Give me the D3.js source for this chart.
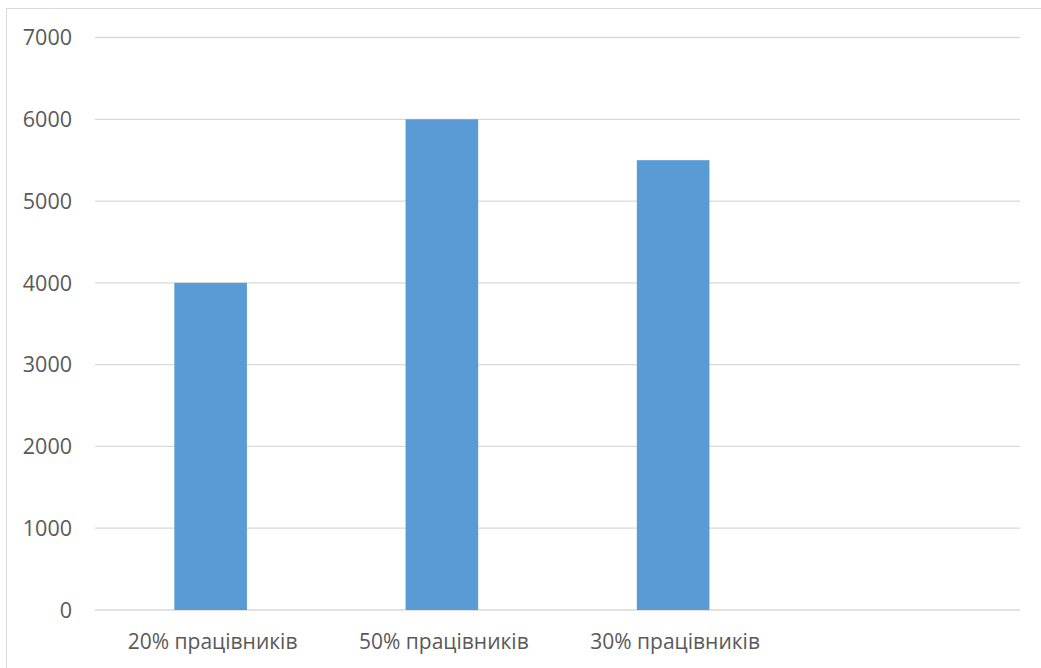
<!DOCTYPE html>
<html><head><meta charset="utf-8">
<script src="https://cdn.jsdelivr.net/npm/d3@7"></script>
<style>body{margin:0;background:#fff;}svg{display:block;}</style>
</head><body>
<svg id="c" width="1041" height="668"></svg>
<script>
const categories = ["20% працівників", "50% працівників", "30% працівників", ""];
const values = [4000, 6000, 5500, null];
const yTicks = [0, 1000, 2000, 3000, 4000, 5000, 6000, 7000];

const svg = d3.select("#c");
const W = 1041, H = 668;
const m = {left: 95, right: 21, top: 37.5, bottom: 58};
const font = "'Open Sans', sans-serif";
const textColor = "#595959";

// chart border
svg.append("rect").attr("x", 6.5).attr("y", 8.5).attr("width", W).attr("height", H)
  .attr("fill", "#fff").attr("stroke", "#d9d9d9").attr("stroke-width", 1);

const x = d3.scaleBand().domain(categories.map((d, i) => i)).range([m.left, W - m.right]).paddingInner(0.686).paddingOuter(0.343);
const y = d3.scaleLinear().domain([0, 7000]).range([H - m.bottom, m.top]);

// gridlines
svg.append("g").selectAll("line").data(yTicks).join("line")
  .attr("x1", m.left).attr("x2", W - m.right)
  .attr("y1", d => y(d)).attr("y2", d => y(d))
  .attr("stroke", "#d9d9d9").attr("stroke-width", 1.3);

// y labels
svg.append("g").selectAll("text").data(yTicks).join("text")
  .attr("x", 72).attr("y", d => y(d)).attr("dy", "0.36em")
  .attr("text-anchor", "end").attr("font-family", font).attr("font-size", 21.5)
  .attr("fill", textColor).text(d => d);

// bars
svg.append("g").selectAll("rect").data(values.map((v, i) => ({v, i})).filter(d => d.v != null)).join("rect")
  .attr("x", d => x(d.i)).attr("width", x.bandwidth())
  .attr("y", d => y(d.v)).attr("height", d => y(0) - y(d.v))
  .attr("fill", "#5b9bd5");

// category labels
svg.append("g").selectAll("text").data(categories).join("text")
  .attr("x", (d, i) => x(i) + x.bandwidth() / 2 + 2).attr("y", 649)
  .attr("text-anchor", "middle").attr("font-family", font).attr("font-size", 21)
  .attr("fill", textColor).text(d => d);
</script>
</body></html>
